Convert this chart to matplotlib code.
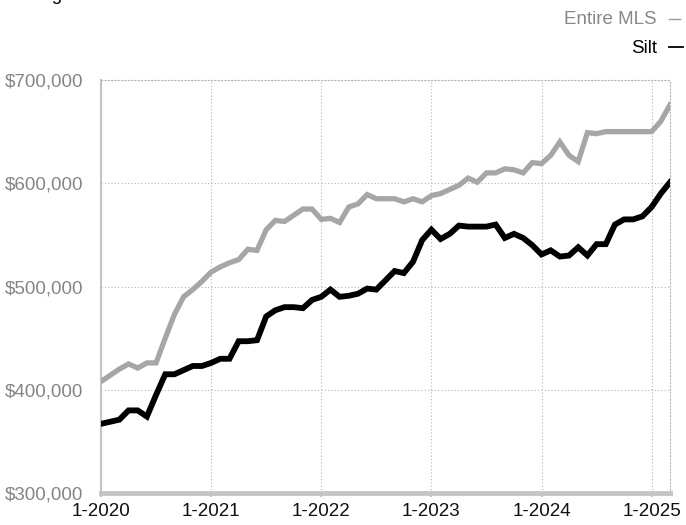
import numpy as np
import matplotlib
matplotlib.use("Agg")
import matplotlib.pyplot as plt
from matplotlib.lines import Line2D
from matplotlib.ticker import FuncFormatter

# monthly rolling median sales price, 1-2020 .. 3-2025 (thousands of $)
months = np.arange(63)
entire_mls = [408, 414, 420, 425, 421, 426, 426, 450, 473, 490, 497, 505,
              514, 519, 523, 526, 536, 535, 555, 564, 563, 569, 575, 575,
              565, 566, 562, 577, 580, 589, 585, 585, 585, 582, 585, 582,
              588, 590, 594, 598, 605, 601, 610, 610, 614, 613, 610, 620,
              619, 627, 640, 627, 621, 649, 648, 650, 650, 650, 650, 650,
              650, 660, 676]
silt = [367, 369, 371, 380, 380, 374, 395, 415, 415, 419, 423, 423,
        426, 430, 430, 447, 447, 448, 471, 477, 480, 480, 479, 487,
        490, 497, 490, 491, 493, 498, 497, 506, 515, 513, 524, 545,
        555, 546, 551, 559, 558, 558, 558, 560, 547, 551, 547, 540,
        531, 535, 529, 530, 538, 530, 541, 541, 560, 565, 565, 568,
        577, 590, 601]
tick_pos = [0, 12, 24, 36, 48, 60]
tick_labels = ["1-2020", "1-2021", "1-2022", "1-2023", "1-2024", "1-2025"]
y_ticks = [300000, 400000, 500000, 600000, 700000]

plt.rcParams['font.family'] = ['Liberation Sans', 'DejaVu Sans']

fig = plt.figure(figsize=(6.86, 5.25), dpi=100)
ax = fig.add_axes([101 / 686, 32 / 525, 569 / 686, 413 / 525])

gray = "#a6a6a6"
ax.plot(months, np.array(entire_mls) * 1000, color=gray, lw=3.8,
        solid_joinstyle="miter", zorder=3)
ax.plot(months, np.array(silt) * 1000, color="black", lw=4.2,
        solid_joinstyle="miter", zorder=4)

ax.set_xlim(0, 62)
ax.set_ylim(300000, 700000)
ax.set_xticks(tick_pos)
ax.set_xticklabels(tick_labels)
ax.set_yticks(y_ticks)
ax.yaxis.set_major_formatter(FuncFormatter(lambda v, p: "${:,.0f}".format(v)))

ax.grid(True, color="#b5b5b5", lw=0.8, linestyle=(0, (1, 2)))
ax.set_axisbelow(True)

for s in ["top", "right"]:
    ax.spines[s].set_color("#b5b5b5")
    ax.spines[s].set_linewidth(0.8)
    ax.spines[s].set_linestyle((0, (1, 2)))
ax.spines["left"].set_color("#c4c4c4")
ax.spines["left"].set_linewidth(1.5)
ax.spines["bottom"].set_color("#c4c4c4")
ax.spines["bottom"].set_linewidth(3.5)

ax.tick_params(axis="y", length=0, pad=13, labelsize=13.5, labelcolor="#858585")
ax.tick_params(axis="x", length=3, width=1.5, color="#c4c4c4", pad=4,
               labelsize=13.5, labelcolor="#111111")

# title, mostly cut off by the top edge as in the original
fig.text(5 / 686, 1.0, "Rolling 12-Month Calculation", fontsize=13.5,
         color="black", va="baseline", ha="left")

# legend on the top right
fig.text(657 / 686, 1 - 24 / 525, "Entire MLS", fontsize=13.5, color="#888888",
         ha="right", va="baseline")
fig.text(657 / 686, 1 - 53 / 525, "Silt", fontsize=13.5, color="black",
         ha="right", va="baseline")
fig.add_artist(Line2D([669 / 686, 680 / 686], [1 - 19 / 525, 1 - 19 / 525],
                      color="#999999", lw=1.0, transform=fig.transFigure))
fig.add_artist(Line2D([669 / 686, 683 / 686], [1 - 47 / 525, 1 - 47 / 525],
                      color="black", lw=1.3, transform=fig.transFigure))

fig.savefig("out.png", dpi=100)
